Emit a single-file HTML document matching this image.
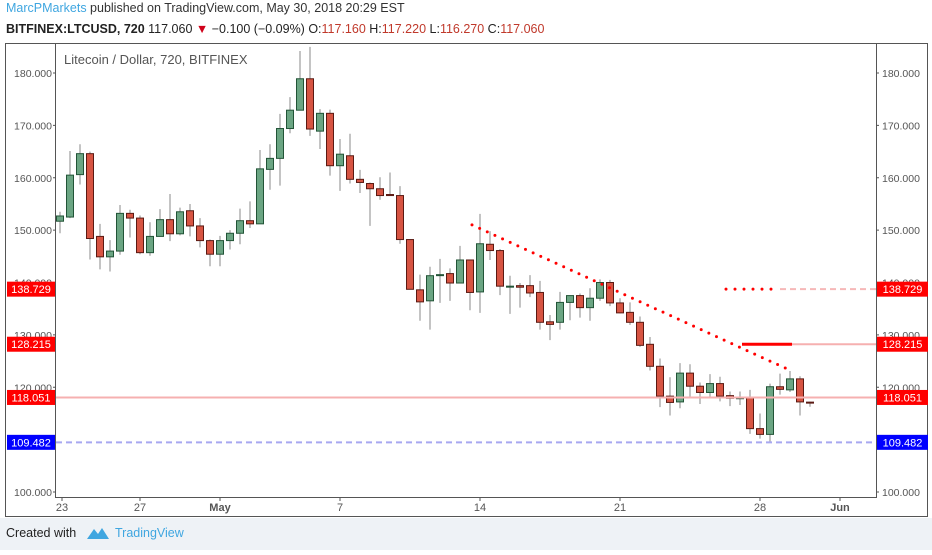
<!DOCTYPE html>
<html><head><meta charset="utf-8"><style>
html,body{margin:0;padding:0;background:#fff;}
body{width:932px;height:550px;overflow:hidden;font-family:"Liberation Sans",sans-serif;}
</style></head><body>
<svg id="chart" width="932" height="550" xmlns="http://www.w3.org/2000/svg" font-family="Liberation Sans, sans-serif">
<rect x="0" y="0" width="932" height="550" fill="#ffffff"/>
<rect x="0" y="518" width="932" height="32" fill="#eef2f6"/>
<text x="6" y="12" font-size="12.5" fill="#333"><tspan fill="#3fa6e0">MarcPMarkets</tspan> published on TradingView.com, May 30, 2018 20:29 EST</text>
<text x="6" y="33" font-size="12.5" fill="#222"><tspan font-weight="bold">BITFINEX:LTCUSD, 720</tspan> 117.060 <tspan fill="#d0021b">▼</tspan> −0.100 (−0.09%) O:<tspan fill="#c0392b">117.160</tspan> H:<tspan fill="#c0392b">117.220</tspan> L:<tspan fill="#c0392b">116.270</tspan> C:<tspan fill="#c0392b">117.060</tspan></text>
<rect x="5.5" y="43.5" width="922" height="473" fill="#fff" stroke="#555" stroke-width="1"/>
<rect x="55.5" y="43.5" width="821" height="454" fill="#fff" stroke="#555" stroke-width="1"/>
<text x="64" y="64" font-size="13" fill="#555">Litecoin / Dollar, 720, BITFINEX</text>
<g id="axes"></g>
<g id="candles"></g>
<g id="overlays"></g>
<text x="6" y="537" font-size="12.5" fill="#222">Created with</text>
<path d="M87 539 L94 529 L98 534 L102 528 L109 539 Z" fill="#3fa6e0"/>
<text x="115" y="537" font-size="12.5" fill="#3fa6e0">TradingView</text>
</svg>
<script>
const NS='http://www.w3.org/2000/svg';
const opens=[151.7,152.5,160.6,164.6,148.8,144.9,146.0,153.2,152.3,145.7,148.8,152.0,149.3,153.7,150.8,148.0,145.4,148.0,149.4,151.8,151.2,161.6,163.7,169.4,172.9,178.9,168.9,172.3,162.3,164.2,159.7,158.9,157.9,156.8,156.6,148.2,138.6,136.5,141.5,141.7,139.9,144.3,138.2,147.3,146.1,139.3,139.4,139.4,138.1,132.5,132.4,136.2,137.5,135.2,137.0,140.0,136.1,134.3,132.4,128.2,124.0,118.3,117.2,122.7,120.2,119.0,120.7,118.4,117.9,118.0,112.1,111.0,120.1,119.5,121.6,117.16];
const closes=[152.7,160.5,164.6,148.4,144.9,146.0,153.2,152.3,145.7,148.8,152.0,149.3,153.5,150.8,148.0,145.4,148.0,149.4,151.8,151.2,161.7,163.7,169.4,172.9,178.9,169.3,172.3,162.3,164.5,159.7,159.1,157.9,156.6,156.6,148.2,138.7,136.3,141.3,141.5,139.9,144.3,138.1,147.4,146.1,139.3,139.3,139.1,138.0,132.4,132.0,136.2,137.5,135.2,137.0,140.0,136.1,134.2,132.4,128.0,124.0,118.3,117.1,122.7,120.2,119.0,120.7,118.3,117.9,118.0,112.1,111.0,120.1,119.6,121.6,117.2,117.06];
const highs=[153.5,165.1,166.4,165.0,151.2,148.1,154.8,153.9,152.8,151.5,154.0,156.9,154.3,155.0,152.3,148.2,148.9,150.0,154.1,155.5,165.3,166.4,172.2,175.4,184.2,185.0,173.1,173.0,167.4,168.4,161.5,159.1,160.1,161.0,158.4,148.2,141.5,143.0,144.5,142.7,147.0,144.3,153.1,149.8,146.4,141.3,139.9,141.4,140.3,133.8,138.2,137.5,137.9,138.9,140.6,140.5,137.0,136.2,133.5,129.6,125.5,121.9,124.6,124.4,120.9,122.5,122.0,119.2,119.2,119.5,115.0,120.7,122.6,123.1,122.1,117.22];
const lows=[149.4,152.3,158.7,144.4,142.5,142.1,145.3,148.6,145.4,145.1,148.8,147.9,149.0,148.8,146.7,143.1,143.1,146.3,147.3,150.4,151.2,157.7,158.5,168.5,172.9,168.0,165.5,160.4,157.5,158.9,157.1,150.8,155.8,156.6,147.4,138.7,132.7,131.0,136.1,136.5,139.9,134.7,134.2,144.3,137.6,134.0,135.2,137.2,131.0,129.0,131.0,132.8,133.3,132.7,136.5,135.5,134.1,131.9,127.7,123.2,116.2,114.6,116.0,117.9,116.8,117.9,117.3,116.4,116.6,111.1,110.2,109.6,118.6,119.1,114.6,116.27];
const priceTicks=[100,110,120,130,140,150,160,170,180];
const dateLabels=['23','27','May','7','14','21','28','Jun'];
const dateIdx=[0.2,8,16,28,42,56,70,78];
const levels=[138.729,128.215,118.051,109.482];
const levelColors=['#ff0000','#ff0000','#ff0000','#0000ff'];
const trendStart=[41.2,151.0];
const trendEnd=[72.6,123.6];

const y=p=>492-(p-100)*5.2375;
const x=i=>60+10*i;
const axes=document.getElementById('axes'), cg=document.getElementById('candles'), og=document.getElementById('overlays');
function mk(tag,attrs,parent,txt){const e=document.createElementNS(NS,tag);for(const k in attrs)e.setAttribute(k,attrs[k]);if(txt!==undefined)e.textContent=txt;parent.appendChild(e);return e;}

priceTicks.forEach(p=>{
  const l=mk('text',{x:52,y:y(p)+4,'font-size':10.5,fill:'#555','text-anchor':'end'},axes,p.toFixed(3));
  
  
  const r=mk('text',{x:882,y:y(p)+4,'font-size':10.5,fill:'#555'},axes,p.toFixed(3));
  
  
  mk('line',{x1:53,x2:56,y1:y(p),y2:y(p),stroke:'#555'},axes);
  mk('line',{x1:876,x2:879,y1:y(p),y2:y(p),stroke:'#555'},axes);
});
dateLabels.forEach((d,k)=>{
  const t=mk('text',{x:x(dateIdx[k]),y:511,'font-size':11,fill:'#555','text-anchor':'middle','font-weight':(d==='May'||d==='Jun')?'bold':'normal'},axes,d);
  
  
  mk('line',{x1:x(dateIdx[k]),x2:x(dateIdx[k]),y1:497,y2:501,stroke:'#555'},axes);
});

// horizontal levels
const h1=mk('line',{x1:56,x2:876,y1:y(levels[2]),y2:y(levels[2]),stroke:'#f6b0b0','stroke-width':2},og);


const h2=mk('line',{x1:56,x2:876,y1:y(levels[3]),y2:y(levels[3]),stroke:'#a8a8f0','stroke-width':2,'stroke-dasharray':'6,4'},og);


const h3=mk('line',{x1:x(68.2),x2:876,y1:y(levels[1]),y2:y(levels[1]),stroke:'#f6b0b0','stroke-width':2},og);


const h3b=mk('line',{x1:x(68.2),x2:x(73.2),y1:y(levels[1]),y2:y(levels[1]),stroke:'#ff0000','stroke-width':3},og);


const h4=mk('line',{x1:x(66.6),x2:x(71.5),y1:y(levels[0]),y2:y(levels[0]),stroke:'#ff0000','stroke-width':3,'stroke-dasharray':'0,9','stroke-linecap':'round'},og);


const h4b=mk('line',{x1:x(72),x2:876,y1:y(levels[0]),y2:y(levels[0]),stroke:'#f6b8b8','stroke-width':2,'stroke-dasharray':'6,4'},og);


const tl=mk('line',{x1:x(trendStart[0]),y1:y(trendStart[1]),x2:x(trendEnd[0]),y2:y(trendEnd[1]),stroke:'#ff0000','stroke-width':3,'stroke-dasharray':'0,8.4','stroke-linecap':'round'},og);



for(let i=0;i<opens.length;i++){
  const o=opens[i],c=closes[i],up=c>=o;
  const g=mk('g',{},cg);
  
  
  mk('line',{x1:x(i),x2:x(i),y1:y(highs[i]),y2:y(lows[i]),stroke:'#888','stroke-width':1},g);
  const top=y(Math.max(o,c)),bot=y(Math.min(o,c));
  mk('rect',{x:x(i)-3.5,y:top,width:7,height:Math.max(1,bot-top),fill:up?'#6ba583':'#d75442',stroke:up?'#225437':'#5b1a13','stroke-width':1},g);
}

levels.forEach((v,k)=>{
  [[7,48],[877,51]].forEach(([bx,bw],s)=>{
    const b=mk('rect',{x:bx,y:y(v)-7.5,width:bw,height:15,fill:levelColors[k]},og);
    
    
    const t=mk('text',{x:bx+bw/2,y:y(v)+4,'font-size':11,fill:'#fff','text-anchor':'middle'},og,v.toFixed(3));
    
    
  });
});
</script>
</body></html>
